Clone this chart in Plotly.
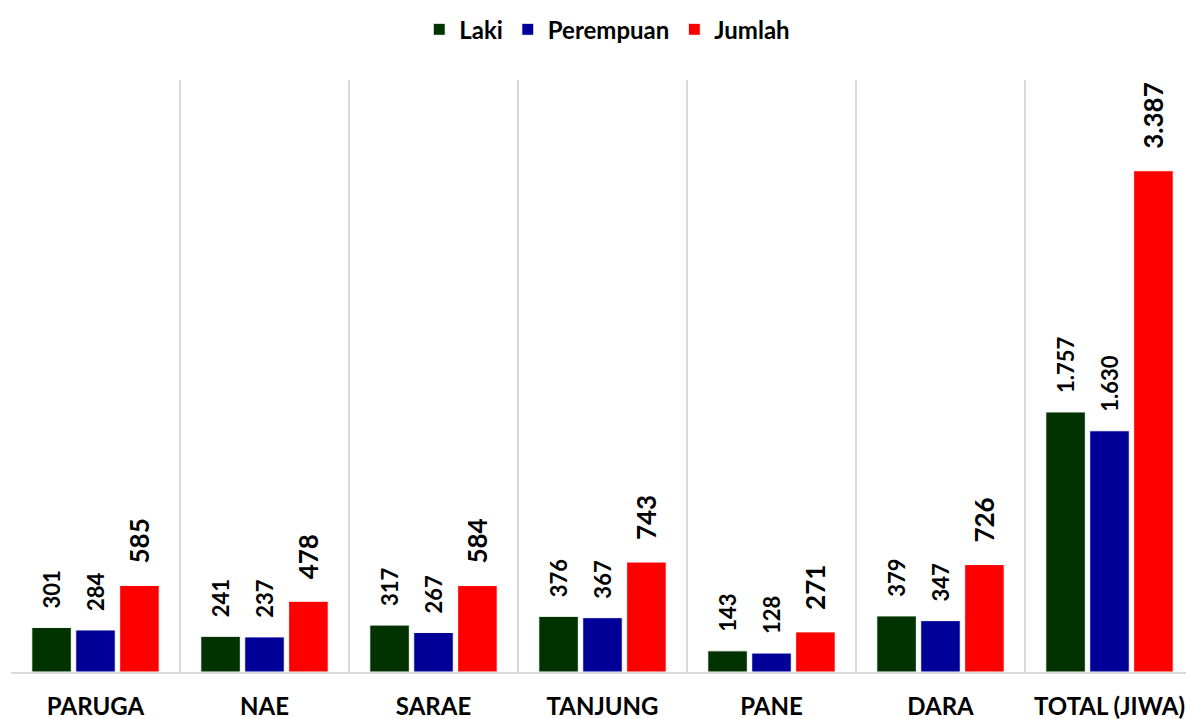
import plotly.graph_objects as go

categories = ["PARUGA", "NAE", "SARAE", "TANJUNG", "PANE", "DARA", "TOTAL (JIWA)"]
laki = [301, 241, 317, 376, 143, 379, 1757]
perempuan = [284, 237, 267, 367, 128, 347, 1630]
jumlah = [585, 478, 584, 743, 271, 726, 3387]

FONT = "Lato"

fig = go.Figure()
series = [
    ("Laki", laki, "#003300", 22),
    ("Perempuan", perempuan, "#000099", 22),
    ("Jumlah", jumlah, "#ff0000", 26),
]
for name, vals, color, fs in series:
    fig.add_trace(go.Bar(
        name=name, x=categories, y=vals,
        marker=dict(color=color, line=dict(color="white", width=1)),
        texttemplate="\u00a0\u00a0\u00a0%{y:,}", textposition="outside", textangle=-90,
        textfont=dict(family=FONT, size=fs, color="black", weight="bold"),
        constraintext="none", cliponaxis=False, hoverinfo="skip",
    ))

fig.update_layout(
    width=1194, height=719,
    margin=dict(l=11, r=0, t=80, b=47),
    paper_bgcolor="white", plot_bgcolor="white",
    barmode="group", bargap=0.22, bargroupgap=0.1,
    separators=",.",
    font=dict(family=FONT, color="black"),
    legend=dict(orientation="h", x=0.504, xanchor="center", y=0.99, yanchor="top",
                yref="container", font=dict(family=FONT, size=24, weight="bold"),
                itemwidth=30, traceorder="normal"),
    showlegend=True,
)
fig.update_xaxes(
    type="category", range=[-0.5, 6.5], tickson="boundaries", showgrid=True,
    gridcolor="#d9d9d9", gridwidth=2,
    showline=True, linecolor="#d9d9d9", linewidth=2, ticks="",
    tickfont=dict(family=FONT, size=24, weight="bold", color="black"),
    ticklabelstandoff=12, automargin=False,
)
fig.update_yaxes(range=[0, 4000], visible=False, showgrid=False, zeroline=False)

fig.write_html("out.html", config={"displayModeBar": False})

with open("out.html", "r", encoding="utf-8") as f:
    html = f.read()
html = html.replace("<head>", "<head><style>html,body{margin:0;padding:0;overflow:hidden;}</style>", 1)
with open("out.html", "w", encoding="utf-8") as f:
    f.write(html)
